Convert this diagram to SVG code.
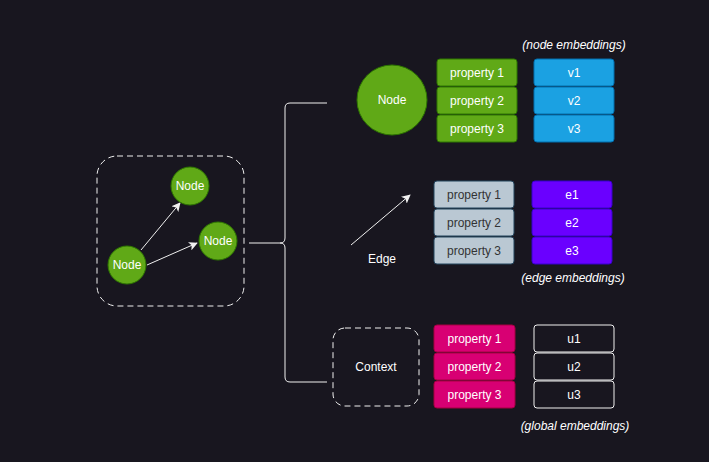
<svg xmlns="http://www.w3.org/2000/svg" width="709" height="462" viewBox="0 0 709 462">
<defs>
<marker id="arr" viewBox="0 0 10 10" refX="9" refY="5" markerWidth="9" markerHeight="9" markerUnits="userSpaceOnUse" orient="auto">
<path d="M0,0 L10,5 L0,10 L2.5,5 Z" fill="#f0f0f0"/>
</marker>
<style>
text{font-family:"Liberation Sans",Arial,sans-serif;font-size:12px;text-anchor:middle;dominant-baseline:central;fill:#ffffff}
.dash{fill:none;stroke:#f0f0f0;stroke-width:1;stroke-dasharray:6 4}
.line{fill:none;stroke:#f0f0f0;stroke-width:1}
.green{fill:#60a917;stroke:#2d7600}
.blue{fill:#1ba1e2;stroke:#006eaf}
.gray{fill:#bac8d3;stroke:#23445d}
.purple{fill:#6a00ff;stroke:#3700cc}
.pink{fill:#d80073;stroke:#a50040}
.outline{fill:#18161f;stroke:#f0f0f0}
.dark{fill:#333333}
.it{font-style:italic;font-size:12px}
</style>
</defs>
<rect width="709" height="462" fill="#18161f"/>

<g id="graph-box">
<rect class="dash" x="97" y="156" width="147" height="150" rx="20"/>
</g>

<g id="connectors">
<path class="line" d="M249,243 H280 Q285,243 285,238 V108 Q285,103 290,103 H327" />
<path class="line" d="M280,243 Q285,243 285,248 V377 Q285,382 290,382 H327" />
<line x1="141" y1="250" x2="180" y2="203" stroke="#f0f0f0" stroke-width="1" marker-end="url(#arr)"/>
<line x1="147" y1="265" x2="197" y2="243" stroke="#f0f0f0" stroke-width="1" marker-end="url(#arr)"/>
<line x1="351" y1="245" x2="410" y2="195" stroke="#f0f0f0" stroke-width="1" marker-end="url(#arr)"/>
</g>

<g id="node-top"><circle class="green" cx="190" cy="186" r="19"/><text x="190" y="186">Node</text></g>
<g id="node-right"><circle class="green" cx="218" cy="241" r="19"/><text x="218" y="241">Node</text></g>
<g id="node-left"><circle class="green" cx="127" cy="265" r="19"/><text x="127" y="265">Node</text></g>

<g id="node-big"><circle class="green" cx="392" cy="100" r="35"/><text x="392" y="100">Node</text></g>

<g id="node-props">
<rect class="green" x="437" y="59" width="80" height="27" rx="3"/><text x="477" y="72.5">property 1</text>
<rect class="green" x="437" y="87" width="80" height="27" rx="3"/><text x="477" y="100.5">property 2</text>
<rect class="green" x="437" y="115" width="80" height="27" rx="3"/><text x="477" y="128.5">property 3</text>
</g>
<g id="node-emb">
<text class="it" x="574" y="45">(node embeddings)</text>
<rect class="blue" x="534" y="59" width="80" height="27" rx="3"/><text x="574" y="72.5">v1</text>
<rect class="blue" x="534" y="87" width="80" height="27" rx="3"/><text x="574" y="100.5">v2</text>
<rect class="blue" x="534" y="115" width="80" height="27" rx="3"/><text x="574" y="128.5">v3</text>
</g>

<g id="edge-label"><text x="382" y="259">Edge</text></g>
<g id="edge-props">
<rect class="gray" x="434" y="181" width="80" height="27" rx="3"/><text class="dark" x="474" y="194.5">property 1</text>
<rect class="gray" x="434" y="209" width="80" height="27" rx="3"/><text class="dark" x="474" y="222.5">property 2</text>
<rect class="gray" x="434" y="237" width="80" height="27" rx="3"/><text class="dark" x="474" y="250.5">property 3</text>
</g>
<g id="edge-emb">
<rect class="purple" x="532" y="181" width="80" height="27" rx="3"/><text x="572" y="194.5">e1</text>
<rect class="purple" x="532" y="209" width="80" height="27" rx="3"/><text x="572" y="222.5">e2</text>
<rect class="purple" x="532" y="237" width="80" height="27" rx="3"/><text x="572" y="250.5">e3</text>
<text class="it" x="573" y="278">(edge embeddings)</text>
</g>

<g id="context"><rect class="dash" x="333" y="328" width="86" height="78" rx="12"/><text x="376" y="367">Context</text></g>
<g id="context-props">
<rect class="pink" x="434" y="325" width="81" height="27" rx="3"/><text x="474.5" y="338.5">property 1</text>
<rect class="pink" x="434" y="353" width="81" height="27" rx="3"/><text x="474.5" y="366.5">property 2</text>
<rect class="pink" x="434" y="381" width="81" height="27" rx="3"/><text x="474.5" y="394.5">property 3</text>
</g>
<g id="context-emb">
<rect class="outline" x="534" y="325" width="80" height="27" rx="3"/><text x="574" y="338.5">u1</text>
<rect class="outline" x="534" y="353" width="80" height="27" rx="3"/><text x="574" y="366.5">u2</text>
<rect class="outline" x="534" y="381" width="80" height="27" rx="3"/><text x="574" y="394.5">u3</text>
<text class="it" x="575" y="426">(global embeddings)</text>
</g>
</svg>
